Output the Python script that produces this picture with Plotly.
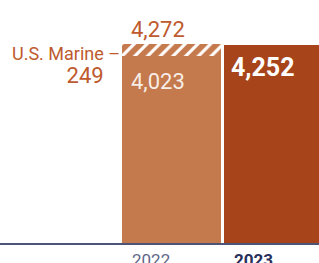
import plotly.graph_objects as go

years = ["2022", "2023"]
base_values = [4023, 4252]
marine_values = [249, None]
total_2022 = 4272
marine_label = "U.S. Marine –"

c22 = "#C57A4E"
c23 = "#A8441A"
txt_orange = "#BE5A2E"

fig = go.Figure()
fig.add_trace(go.Bar(
    x=years, y=base_values, width=0.97,
    marker=dict(color=[c22, c23], line=dict(width=0)),
    hoverinfo="skip",
))
fig.add_trace(go.Bar(
    x=years, y=marine_values, width=0.97,
    marker=dict(color=c22, line=dict(width=0),
                pattern=dict(shape="/", fgcolor="white", bgcolor=c22,
                             size=9, solidity=0.35, fillmode="replace")),
    hoverinfo="skip",
))

font = "Roboto"
ann = []
ann.append(dict(x=0, y=total_2022, xref="x", yref="y", text=f"{total_2022:,}",
                xanchor="left", yanchor="bottom", xshift=-42, yshift=0,
                showarrow=False, font=dict(family=font, size=22, color=txt_orange)))
ann.append(dict(x=0, y=base_values[0], xref="x", yref="y", text=f"{base_values[0]:,}",
                xanchor="left", yanchor="top", xshift=-42, yshift=-11,
                showarrow=False, font=dict(family=font, size=22, color="rgba(255,255,255,0.88)")))
ann.append(dict(x=1, y=base_values[1], xref="x", yref="y", text=f"<b>{base_values[1]:,}</b>",
                xanchor="left", yanchor="top", xshift=-45, yshift=-6,
                showarrow=False, font=dict(family=font, size=25, color="white")))
ann.append(dict(x=0, y=total_2022, xref="x", yref="y",
                text=f"{marine_label}<br><span style='font-size:22px'>{marine_values[0]}&nbsp;&nbsp;&nbsp;</span>",
                xanchor="right", yanchor="top", align="right", xshift=-49, yshift=3,
                showarrow=False, font=dict(family=font, size=18, color=txt_orange)))
ann.append(dict(x=0, y=0, xref="x", yref="y", text=years[0],
                xanchor="left", yanchor="top", xshift=-41, yshift=-5,
                showarrow=False, font=dict(family=font, size=17, color="#5E6788")))
ann.append(dict(x=1, y=0, xref="x", yref="y", text=f"<b>{years[1]}</b>",
                xanchor="left", yanchor="top", xshift=-42, yshift=-5,
                showarrow=False, font=dict(family=font, size=17, color="#27305C")))

fig.update_layout(
    width=319, height=263,
    margin=dict(l=0, r=0, t=0, b=20),
    barmode="stack",
    showlegend=False,
    plot_bgcolor="white", paper_bgcolor="white",
    annotations=ann,
    xaxis=dict(type="category", range=[-1.681, 1.446], showticklabels=False,
               showgrid=False, zeroline=False, showline=True,
               linecolor="#4C5478", linewidth=1.5, ticks=""),
    yaxis=dict(range=[0, 5229], visible=False, showgrid=False, zeroline=False),
)

fig.write_html("out.html", config={"displayModeBar": False},
               post_script="document.body.style.margin='0';")
